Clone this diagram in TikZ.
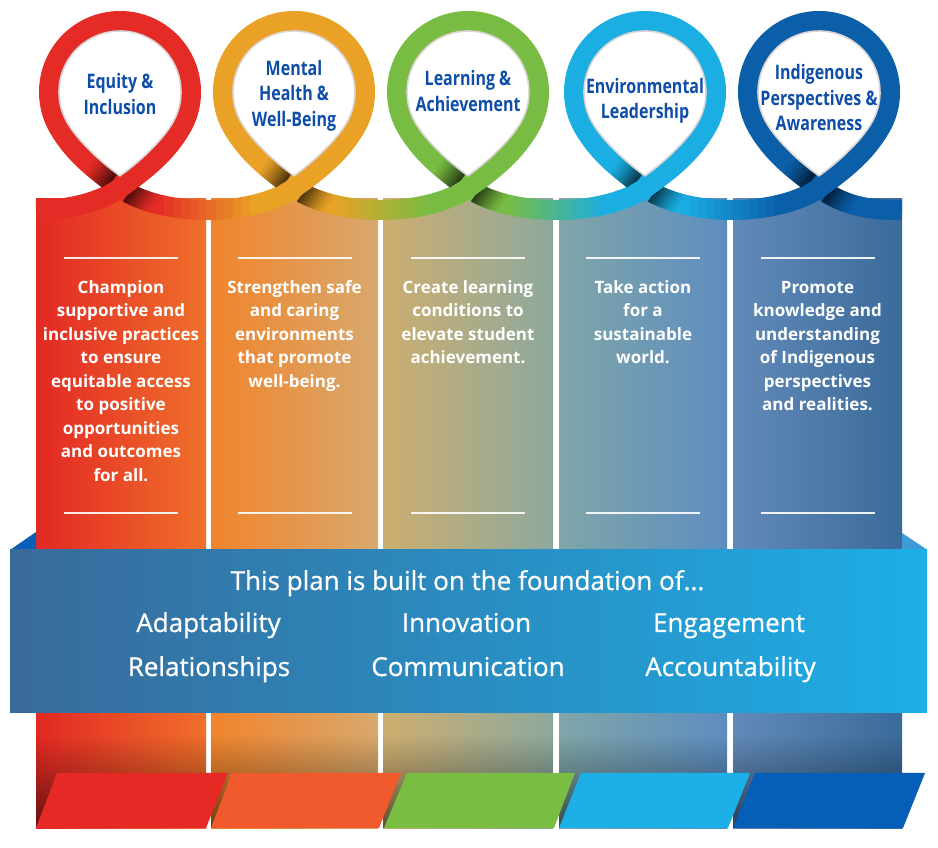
\documentclass[tikz,border=0pt]{standalone}
\usepackage{fontspec}
\setmainfont{Open Sans}
\newfontfamily\ttlfont{Open Sans}[FakeStretch=0.8]
\newfontfamily\banfont{Open Sans}[FakeBold=0.8]
\usetikzlibrary{fadings}
\definecolor{cRed}{HTML}{E52B26}
\definecolor{cOrg}{HTML}{E9A226}
\definecolor{cGrn}{HTML}{79BC43}
\definecolor{cLbl}{HTML}{1BAEE3}
\definecolor{cDbl}{HTML}{0B5EA8}
\definecolor{ttlblue}{HTML}{0E4DA8}
\definecolor{pRed}{HTML}{E52A25}
\definecolor{pOrg}{HTML}{F15A2D}
\definecolor{pGrn}{HTML}{79BD43}
\definecolor{pLbl}{HTML}{1DB0E6}
\definecolor{pDbl}{HTML}{055FB9}
\definecolor{aL}{HTML}{E32824}\definecolor{aM}{HTML}{E5332A}\definecolor{aR}{HTML}{EF702B}
\definecolor{bL}{HTML}{F0842C}\definecolor{bM}{HTML}{F7A125}\definecolor{bR}{HTML}{D8A96D}
\definecolor{cL}{HTML}{CDAE70}\definecolor{cM}{HTML}{AEB07D}\definecolor{cR}{HTML}{8DA99D}
\definecolor{dL}{HTML}{80A6A8}\definecolor{dM}{HTML}{5E9DC9}\definecolor{dR}{HTML}{5D8DC0}
\definecolor{eL}{HTML}{628AB8}\definecolor{eM}{HTML}{5080B0}\definecolor{eR}{HTML}{3A6B9B}
\definecolor{bnL}{HTML}{386A9A}\definecolor{bnM}{HTML}{5A8DC0}\definecolor{bnR}{HTML}{1DAEE6}
\definecolor{triL}{HTML}{0A5EB8}\definecolor{triR}{HTML}{3D9CD8}
\definecolor{edgegray}{HTML}{DAD4D4}

\newcommand\gradseg[4]{%
  \foreach \kk in {0,...,23}{%
    \pgfmathsetmacro\xa{#1-16+\kk*(#2-#1+32)/24}%
    \pgfmathsetmacro\xb{\xa+(#2-#1+32)/24+0.6}%
    \pgfmathsetmacro\fr{max(0,min(100,100*((\xa+\xb)/2-#1-0.22*(#2-#1))/(0.56*(#2-#1))))}%
    \begin{scope}
      \clip (\xa,600) rectangle (\xb,690);
      \draw[ribbon, draw=#4!\fr!#3] (#1,659) .. controls (#1+41.8,629.7) and (#2-41.8,629.7) .. (#2,659);
    \end{scope}}}

\newcommand\loopring[2]{%
  \draw[ribbon, draw=#2] (#1,659) .. controls (#1+24.6,676.2) and (#1+46.5,693.5) .. (#1+61.49,719.5)
    arc[start angle=-30,end angle=210,radius=71]
    .. controls (#1-46.5,693.5) and (#1-24.6,676.2) .. (#1,659);}

\newcommand\crossing[4]{%
  \foreach \kk in {0,...,13}{%
    \pgfmathsetmacro\sa{10+2*\kk}%
    \pgfmathsetmacro\sb{\sa+2.25}%
    \pgfmathsetmacro\so{0.62*(1-\kk/14)^1.4}%
    \begin{scope}
      \clip[shift={(#1,659)},rotate=-35] (\sa,-14) rectangle (\sb,24);
      \draw[ribbon, draw=black, opacity=\so] #3;
    \end{scope}
    \begin{scope}
      \clip[shift={(#1,659)},rotate=-35] (-\sb,-14) rectangle (-\sa,24);
      \draw[ribbon, draw=black, opacity=\so] #3;
    \end{scope}}
  \begin{scope}
    \clip[shift={(#1,659)},rotate=35] (-16,-10.6) rectangle (16,10.6);
    \draw[ribbon, draw=#2] #4;
  \end{scope}
  \draw[edgegray, line width=1.6pt] (#1+52.83,724.5) arc[start angle=-30,end angle=210,radius=61]
    .. controls (#1-41.8,705.4) and (#1-18,683.8) .. (#1,671.2)
    .. controls (#1+18,683.8) and (#1+41.8,705.4) .. (#1+52.83,724.5);}

\tikzset{
  ribbon/.style={line width=20pt, line cap=butt},
  coltext/.style={text=white, font=\fontsize{17}{23.5}\selectfont\bfseries, align=center, anchor=north, inner sep=0pt},
  bantext/.style={text=white, font=\banfont\fontsize{26}{30}\selectfont, anchor=base, inner sep=0pt},
  ttl/.style={text=ttlblue, font=\ttlfont\bfseries\fontsize{20}{25.5}\selectfont, align=center, inner sep=0pt},
  sepline/.style={white, line width=1.5pt, opacity=.9}
}

\begin{document}
\begin{tikzpicture}[x=1pt,y=1pt]
\useasboundingbox (0,0) rectangle (938,847);
\fill[white] (0,0) rectangle (938,847);

% columns
\foreach \xa/\xb/\cl/\cm/\cr in {36/206/aL/aM/aR, 211/378/bL/bM/bR, 383/553/cL/cM/cR, 559/727/dL/dM/dR, 733/902/eL/eM/eR}{
  \shade[left color=\cl, middle color=\cm, right color=\cr] (\xa,19) rectangle (\xb,648);
  \fill[black, opacity=.55, path fading=north] (\xa,19) rectangle (\xb,112);
  \draw[sepline] ({(\xa+\xb)/2-57},589) -- ({(\xa+\xb)/2+57},589);
  \draw[sepline] ({(\xa+\xb)/2-57},334) -- ({(\xa+\xb)/2+57},334);
}

% column texts
\node[coltext] (t1) at (121,570.5) {\strut Champion\\supportive and\\inclusive practices\\to ensure\\equitable access\\to positive\\opportunities\\and outcomes\\for all.};
\node[coltext] (t2) at (294.5,570.5) {\strut Strengthen safe\\and caring\\environments\\that promote\\well-being.};
\node[coltext] (t3) at (468,570.5) {\strut Create learning\\conditions to\\elevate student\\achievement.};
\node[coltext] (t4) at (643,570.5) {\strut Take action\\for a\\sustainable\\world.};
\node[coltext] (t5) at (817.5,570.5) {\strut Promote\\knowledge and\\understanding\\of Indigenous\\perspectives\\and realities.};

% foundation banner
\fill[triL] (10,297) -- (36,315) -- (36,297) -- cycle;
\fill[triR] (902,314) -- (926,298) -- (902,298) -- cycle;
\shade[left color=bnL, middle color=bnM, right color=bnR] (10,134) rectangle (927,297);
\node[bantext] (f0) at (467.5,257) {This plan is built on the foundation of...};
\node[bantext] (f1) at (208.5,215) {Adaptability};
\node[bantext] (f2) at (466.5,215) {Innovation};
\node[bantext] (f3) at (729,215) {Engagement};
\node[bantext] (f4) at (209,171) {Relationships};
\node[bantext] (f5) at (468,171) {Communication};
\node[bantext] (f6) at (730.5,171) {Accountability};

% bottom parallelograms
\fill[pRed] (36,19) -- (206,19) -- (228,74) -- (57,74) -- cycle;
\fill[pOrg] (211,19) -- (379,19) -- (401,74) -- (232,74) -- cycle;
\fill[pGrn] (384,19) -- (554,19) -- (575,74) -- (407,74) -- cycle;
\fill[pLbl] (559,19) -- (728,19) -- (750,74) -- (581,74) -- cycle;
\fill[pDbl] (733,19) -- (903,19) -- (925,74) -- (755,74) -- cycle;

% ribbon
\draw[ribbon, draw=cRed] (36,637) .. controls (60,637) and (95,641.5) .. (120,659);
\loopring{120}{cRed}
\loopring{294}{cOrg}
\loopring{468}{cGrn}
\loopring{645}{cLbl}
\loopring{819}{cDbl}
\gradseg{120}{294}{cRed}{cOrg}
\gradseg{294}{468}{cOrg}{cGrn}
\gradseg{468}{645}{cGrn}{cLbl}
\gradseg{645}{819}{cLbl}{cDbl}
\draw[ribbon, draw=cDbl] (819,659) .. controls (849,638) and (875,637) .. (902,637);

\crossing{120}{cRed}
  {(58.51,719.5) .. controls (73.5,693.5) and (95.4,676.2) .. (120,659) .. controls (161.8,629.7) and (252.2,629.7) .. (294,659)}
  {(36,637) .. controls (60,637) and (95,641.5) .. (120,659) .. controls (144.6,676.2) and (166.5,693.5) .. (181.49,719.5)}
\crossing{294}{cOrg}
  {(232.51,719.5) .. controls (247.5,693.5) and (269.4,676.2) .. (294,659) .. controls (335.8,629.7) and (426.2,629.7) .. (468,659)}
  {(120,659) .. controls (161.8,629.7) and (252.2,629.7) .. (294,659) .. controls (318.6,676.2) and (340.5,693.5) .. (355.49,719.5)}
\crossing{468}{cGrn}
  {(406.51,719.5) .. controls (421.5,693.5) and (443.4,676.2) .. (468,659) .. controls (509.8,629.7) and (603.2,629.7) .. (645,659)}
  {(294,659) .. controls (335.8,629.7) and (426.2,629.7) .. (468,659) .. controls (492.6,676.2) and (514.5,693.5) .. (529.49,719.5)}
\crossing{645}{cLbl}
  {(583.51,719.5) .. controls (598.5,693.5) and (620.4,676.2) .. (645,659) .. controls (686.8,629.7) and (777.2,629.7) .. (819,659)}
  {(468,659) .. controls (509.8,629.7) and (603.2,629.7) .. (645,659) .. controls (669.6,676.2) and (691.5,693.5) .. (706.49,719.5)}
\crossing{819}{cDbl}
  {(757.51,719.5) .. controls (772.5,693.5) and (794.4,676.2) .. (819,659) .. controls (849,638) and (875,637) .. (902,637)}
  {(645,659) .. controls (686.8,629.7) and (777.2,629.7) .. (819,659) .. controls (843.6,676.2) and (865.5,693.5) .. (880.49,719.5)}

% titles
\node[ttl] (h1) at (120,753) {Equity \&\\Inclusion};
\node[ttl] (h2) at (294,751.5) {Mental\\Health \&\\Well-Being};
\node[ttl] (h3) at (468,756) {Learning \&\\Achievement};
\node[ttl] (h4) at (645,746) {Environmental\\Leadership};
\node[ttl] (h5) at (819,749) {Indigenous\\Perspectives \&\\Awareness};
\end{tikzpicture}
\end{document}
